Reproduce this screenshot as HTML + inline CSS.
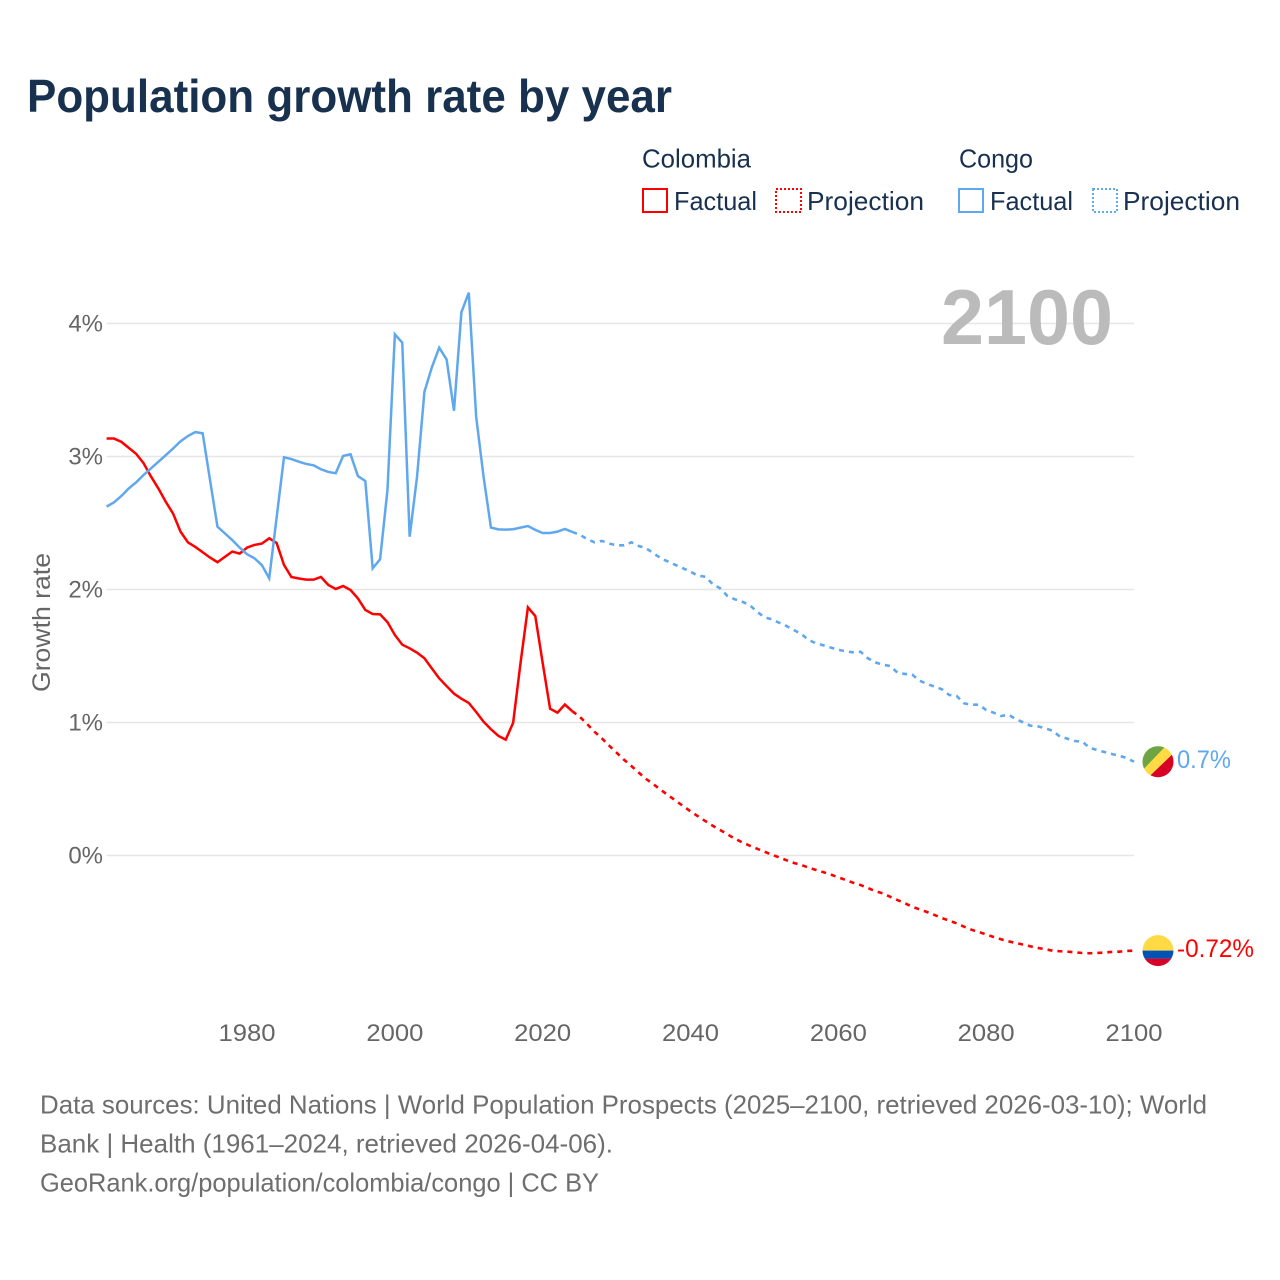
<!DOCTYPE html>
<html lang="en">
<head>
<meta charset="utf-8">
<title>Population growth rate by year</title>
<style>
html,body{margin:0;padding:0;background:#fff;}
svg{display:block;font-family:"Liberation Sans",sans-serif;}
</style>
</head>
<body>
<svg id="chart" width="1280" height="1280" viewBox="0 0 1280 1280" xmlns="http://www.w3.org/2000/svg">
  <rect width="1280" height="1280" fill="#fff"/>
  <text x="27" y="112" font-size="46" font-weight="700" fill="#18314f" textLength="645" lengthAdjust="spacingAndGlyphs">Population growth rate by year</text>

  <g font-size="26" fill="#18314f">
    <text x="642" y="167.5" textLength="109" lengthAdjust="spacingAndGlyphs">Colombia</text>
    <rect x="643" y="189" width="24" height="23" fill="none" stroke="#ff0000" stroke-width="2"/>
    <text x="674" y="210" textLength="83" lengthAdjust="spacingAndGlyphs">Factual</text>
    <rect x="776" y="189" width="25" height="23" fill="none" stroke="#ff0000" stroke-width="2" stroke-dasharray="2 2"/>
    <text x="807" y="210" textLength="117" lengthAdjust="spacingAndGlyphs">Projection</text>
    <text x="959" y="167.5" textLength="74" lengthAdjust="spacingAndGlyphs">Congo</text>
    <rect x="959" y="189" width="24" height="23" fill="none" stroke="#5fa8ee" stroke-width="2"/>
    <text x="990" y="210" textLength="83" lengthAdjust="spacingAndGlyphs">Factual</text>
    <rect x="1093" y="189" width="24" height="23" fill="none" stroke="#5fa8ee" stroke-width="2" stroke-dasharray="2 2"/>
    <text x="1123" y="210" textLength="117" lengthAdjust="spacingAndGlyphs">Projection</text>
  </g>

  <g id="grid"></g>
  <g id="y-tick-labels"></g>
  <g id="x-tick-labels"></g>

  <text transform="translate(50 622.5) rotate(-90)" text-anchor="middle" font-size="25" fill="#666" textLength="139" lengthAdjust="spacingAndGlyphs">Growth rate</text>
  <text x="941" y="344" font-size="78" font-weight="700" fill="#bbbbbb" textLength="172" lengthAdjust="spacingAndGlyphs">2100</text>

  <g id="series"></g>

  <defs>
    <clipPath id="flag-clip-colombia"><circle id="clip-colombia" r="15.5"/></clipPath>
    <clipPath id="flag-clip-congo"><circle id="clip-congo" r="15.5"/></clipPath>
  </defs>

  <g id="flag-congo">
    <g clip-path="url(#flag-clip-congo)">
      <rect x="-16" y="-16" width="32" height="32" fill="#ffda44"/>
      <polygon points="-16,-16 8,-16 -16,9" fill="#6da544"/>
      <polygon points="16,-9 16,16 -10,16" fill="#d80027"/>
    </g>
  </g>
  <g id="flag-colombia">
    <g clip-path="url(#flag-clip-colombia)">
      <rect x="-16" y="-16" width="32" height="16" fill="#ffda44"/>
      <rect x="-16" y="0" width="32" height="8" fill="#0052b4"/>
      <rect x="-16" y="8" width="32" height="8" fill="#d80027"/>
    </g>
  </g>
  <g id="end-labels"></g>

  <g font-size="26" fill="#6e6e6e">
    <text x="40" y="1113.5" textLength="1167" lengthAdjust="spacingAndGlyphs">Data sources: United Nations | World Population Prospects (2025–2100, retrieved 2026-03-10); World</text>
    <text x="40" y="1152.5" textLength="573" lengthAdjust="spacingAndGlyphs">Bank | Health (1961–2024, retrieved 2026-04-06).</text>
    <text x="40" y="1191.5" textLength="559" lengthAdjust="spacingAndGlyphs">GeoRank.org/population/colombia/congo | CC BY</text>
  </g>
</svg>

<script>
const factualYears = [1961,1962,1963,1964,1965,1966,1967,1968,1969,1970,1971,1972,1973,1974,1975,1976,1977,1978,1979,1980,1981,1982,1983,1984,1985,1986,1987,1988,1989,1990,1991,1992,1993,1994,1995,1996,1997,1998,1999,2000,2001,2002,2003,2004,2005,2006,2007,2008,2009,2010,2011,2012,2013,2014,2015,2016,2017,2018,2019,2020,2021,2022,2023,2024];
const projectionYears = [2024,2025,2026,2027,2028,2029,2030,2031,2032,2033,2034,2035,2036,2037,2038,2039,2040,2041,2042,2043,2044,2045,2046,2047,2048,2049,2050,2051,2052,2053,2054,2055,2056,2057,2058,2059,2060,2061,2062,2063,2064,2065,2066,2067,2068,2069,2070,2071,2072,2073,2074,2075,2076,2077,2078,2079,2080,2081,2082,2083,2084,2085,2086,2087,2088,2089,2090,2091,2092,2093,2094,2095,2096,2097,2098,2099,2100];

const colombiaFactual = [3.135,3.135,3.11,3.065,3.02,2.95,2.85,2.76,2.66,2.57,2.435,2.355,2.32,2.28,2.24,2.205,2.245,2.285,2.27,2.315,2.335,2.345,2.385,2.35,2.185,2.094,2.083,2.074,2.074,2.094,2.034,2.004,2.026,1.996,1.933,1.846,1.816,1.813,1.755,1.658,1.585,1.558,1.525,1.483,1.407,1.332,1.274,1.217,1.179,1.147,1.079,1.006,0.949,0.9,0.871,0.998,1.447,1.866,1.8,1.447,1.104,1.074,1.135,1.085];
const colombiaProjection = [1.085,1.044,0.989,0.931,0.881,0.826,0.773,0.72,0.673,0.623,0.575,0.535,0.492,0.452,0.412,0.372,0.332,0.295,0.259,0.224,0.192,0.159,0.126,0.099,0.074,0.051,0.029,0.006,-0.014,-0.036,-0.056,-0.071,-0.092,-0.109,-0.126,-0.144,-0.164,-0.184,-0.205,-0.222,-0.244,-0.269,-0.284,-0.31,-0.335,-0.359,-0.385,-0.405,-0.425,-0.447,-0.47,-0.49,-0.51,-0.535,-0.558,-0.575,-0.593,-0.613,-0.63,-0.645,-0.658,-0.67,-0.683,-0.695,-0.705,-0.716,-0.72,-0.723,-0.728,-0.733,-0.735,-0.733,-0.73,-0.725,-0.723,-0.718,-0.715];

const congoFactual = [2.623,2.655,2.703,2.76,2.806,2.861,2.91,2.96,3.01,3.06,3.114,3.154,3.184,3.174,2.82,2.472,2.422,2.372,2.315,2.265,2.235,2.184,2.084,2.54,2.994,2.981,2.961,2.944,2.934,2.904,2.884,2.874,3.004,3.017,2.853,2.816,2.159,2.227,2.748,3.919,3.856,2.397,2.848,3.487,3.67,3.818,3.73,3.344,4.084,4.232,3.299,2.848,2.465,2.452,2.45,2.453,2.465,2.477,2.448,2.425,2.425,2.435,2.455,2.433];
const congoProjection = [2.433,2.412,2.38,2.355,2.365,2.345,2.332,2.332,2.355,2.327,2.31,2.272,2.235,2.209,2.184,2.159,2.134,2.104,2.096,2.041,2.009,1.951,1.926,1.908,1.883,1.833,1.791,1.776,1.75,1.725,1.695,1.665,1.62,1.595,1.58,1.563,1.547,1.535,1.528,1.532,1.483,1.452,1.435,1.425,1.375,1.365,1.36,1.314,1.29,1.27,1.25,1.207,1.2,1.144,1.134,1.134,1.094,1.074,1.049,1.059,1.026,1.001,0.976,0.971,0.956,0.938,0.893,0.878,0.861,0.856,0.81,0.793,0.778,0.763,0.75,0.733,0.705];

const yTickValues = [0,1,2,3,4];
const yTickLabels = ["0%","1%","2%","3%","4%"];
const xTickValues = [1980,2000,2020,2040,2060,2080,2100];
const xTickLabels = ["1980","2000","2020","2040","2060","2080","2100"];
const endLabelTexts = ["-0.72%","0.7%"];

const NS = "http://www.w3.org/2000/svg";
const RED = "#ff0000";
const BLUE = "#5fa8ee";
function xScale(year){ return 106.6 + (year - 1961) * (1134 - 106.6) / (2100 - 1961); }
function yScale(v){ return 855.5 - v * 133; }
function pathFrom(years, values){
  return values.map(function(v,i){ return (i ? "L" : "M") + xScale(years[i]).toFixed(2) + " " + yScale(v).toFixed(2); }).join("");
}
function make(tag, parentId, attrs){
  const el = document.createElementNS(NS, tag);
  Object.keys(attrs).forEach(function(k){ el.setAttribute(k, attrs[k]); });
  document.getElementById(parentId).appendChild(el);
  return el;
}

yTickValues.forEach(function(v, i){
  const line = make("line", "grid", {x1: xScale(1961), x2: xScale(2100), y1: yScale(v), y2: yScale(v), stroke: "#e6e6e6", "stroke-width": 1.5});
  
  
  const label = make("text", "y-tick-labels", {x: 103, y: yScale(v) + 8, "text-anchor": "end", "font-size": 24, fill: "#666"});
  
  
  label.textContent = yTickLabels[i];
});

xTickValues.forEach(function(v, i){
  const label = make("text", "x-tick-labels", {x: xScale(v), y: 1041, "text-anchor": "middle", "font-size": 24.5, fill: "#666", textLength: 57, lengthAdjust: "spacingAndGlyphs"});
  
  
  label.textContent = xTickLabels[i];
});

const colombiaLine = make("path", "series", {d: pathFrom(factualYears, colombiaFactual), fill: "none", stroke: RED, "stroke-width": 2.5, "stroke-linejoin": "miter"});



const colombiaDash = make("path", "series", {d: pathFrom(projectionYears, colombiaProjection), fill: "none", stroke: RED, "stroke-width": 2.6, "stroke-dasharray": "5 5"});



const congoLine = make("path", "series", {d: pathFrom(factualYears, congoFactual), fill: "none", stroke: BLUE, "stroke-width": 2.5, "stroke-linejoin": "miter"});



const congoDash = make("path", "series", {d: pathFrom(projectionYears, congoProjection), fill: "none", stroke: BLUE, "stroke-width": 2.6, "stroke-dasharray": "5 5"});



const flagX = 1158;
const colombiaEndY = yScale(colombiaProjection[colombiaProjection.length - 1]);
const congoEndY = yScale(congoProjection[congoProjection.length - 1]);
document.getElementById("flag-colombia").setAttribute("transform", "translate(" + flagX + " " + colombiaEndY + ")");
document.getElementById("flag-congo").setAttribute("transform", "translate(" + flagX + " " + congoEndY + ")");

const colombiaEnd = make("text", "end-labels", {x: 1177, y: colombiaEndY + 6.5, "font-size": 25, fill: RED, textLength: 77, lengthAdjust: "spacingAndGlyphs"});


colombiaEnd.textContent = endLabelTexts[0];

const congoEnd = make("text", "end-labels", {x: 1177, y: congoEndY + 6.5, "font-size": 25, fill: BLUE, textLength: 54, lengthAdjust: "spacingAndGlyphs"});


congoEnd.textContent = endLabelTexts[1];
</script>
</body>
</html>
